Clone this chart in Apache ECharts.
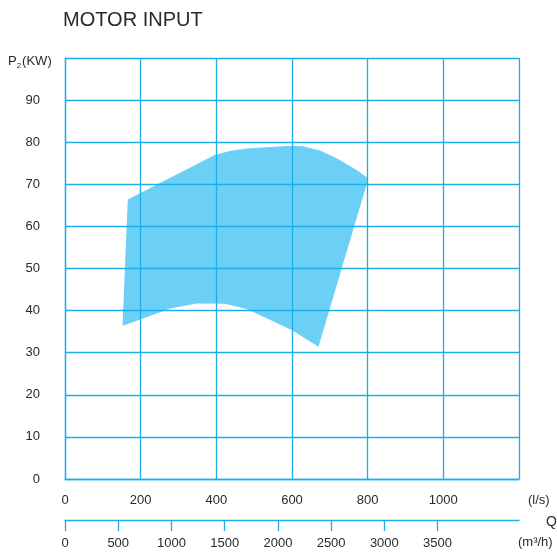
<!DOCTYPE html>
<html>
<head>
<meta charset="utf-8">
<script src="https://cdn.jsdelivr.net/npm/echarts@6/dist/echarts.min.js"></script>
<style>html,body{margin:0;padding:0;background:#fff;}#chart{width:557px;height:554px;}</style>
</head>
<body>
<div id="chart"></div>
<script>
// Operating envelope of motor input power P2 (kW) vs flow Q (l/s), traced clockwise
var qLs = [166, 152, 166, 278, 348, 423, 480, 550, 599, 670, 802, 771, 718, 674, 626, 586, 480, 436, 397];
var pKw = [66.4, 36.4, 36.8, 40.5, 41.7, 41.6, 40.4, 37.5, 35.4, 31.4, 71.4, 73.4, 76.2, 78.0, 79.1, 79.1, 78.5, 77.9, 77.0];
var lsTicks = [0, 200, 400, 600, 800, 1000];
var m3hTicks = [0, 500, 1000, 1500, 2000, 2500, 3000, 3500];
var yTicks = [0, 10, 20, 30, 40, 50, 60, 70, 80, 90];

var FONT = "'Liberation Sans', Arial, sans-serif";
var LINE = '#1CAEEA';
var TXT = '#2a2a2a';
var plain = function (v) { return String(v); };

var chart = echarts.init(document.getElementById('chart'), null, {renderer: 'canvas'});
var pts = qLs.map(function (q, i) { return [q, pKw[i]]; });

chart.setOption({
  animation: false,
  title: {
    text: 'MOTOR INPUT', left: 63, top: 10, padding: 0,
    textStyle: {fontFamily: FONT, fontSize: 20, fontWeight: 'normal', color: TXT}
  },
  grid: {left: 65, right: 38, top: 58, bottom: 75},
  xAxis: [{
    type: 'value', min: 0, max: 1200, interval: 200, position: 'bottom', z: 5,
    axisLine: {show: true, lineStyle: {color: LINE, width: 1.3}},
    axisTick: {show: false},
    axisLabel: {customValues: lsTicks, formatter: plain, margin: 15, color: TXT, fontSize: 13, fontFamily: FONT},
    splitLine: {show: true, lineStyle: {color: LINE, width: 1.3}}
  }, {
    type: 'value', min: 0, max: 4265, position: 'bottom', offset: 41, z: 5,
    axisLine: {show: true, lineStyle: {color: LINE, width: 1.3}},
    axisTick: {show: true, customValues: m3hTicks, length: 11, lineStyle: {color: LINE, width: 1.3}},
    axisLabel: {customValues: m3hTicks, formatter: plain, margin: 17, color: TXT, fontSize: 13, fontFamily: FONT},
    splitLine: {show: false}
  }],
  yAxis: {
    type: 'value', min: 0, max: 100, interval: 10, z: 5,
    axisLine: {show: true, lineStyle: {color: LINE, width: 1.3}},
    axisTick: {show: false},
    axisLabel: {customValues: yTicks, formatter: plain, margin: 25, color: TXT, fontSize: 13, fontFamily: FONT},
    splitLine: {show: true, lineStyle: {color: LINE, width: 1.3}}
  },
  graphic: [
    {type: 'text', left: 8, top: 52, style: {
      text: '{a|P}{b|2}{a|(KW)}', fill: TXT,
      rich: {
        a: {fontFamily: FONT, fontSize: 13, fill: TXT, lineHeight: 17},
        b: {fontFamily: FONT, fontSize: 8, fill: TXT, lineHeight: 17, padding: [10, 1, 0, 0]}
      }
    }},
    {type: 'text', left: 528, top: 494, style: {text: '(l/s)', fontFamily: FONT, fontSize: 13, fill: TXT}},
    {type: 'text', left: 546, top: 515, style: {text: 'Q', fontFamily: FONT, fontSize: 14, fill: TXT}},
    {type: 'text', left: 518, top: 536, style: {text: '(m³/h)', fontFamily: FONT, fontSize: 13, fill: TXT}}
  ],
  series: [{
    type: 'custom', xAxisIndex: 0, yAxisIndex: 0, z: 2,
    data: pts,
    renderItem: function (params, api) {
      if (params.dataIndex !== 0) return null;
      var poly = pts.map(function (p) { return api.coord(p); });
      return {type: 'polygon', shape: {points: poly}, style: {fill: '#6CCFF6', stroke: null}};
    }
  }]
});
</script>
</body>
</html>
